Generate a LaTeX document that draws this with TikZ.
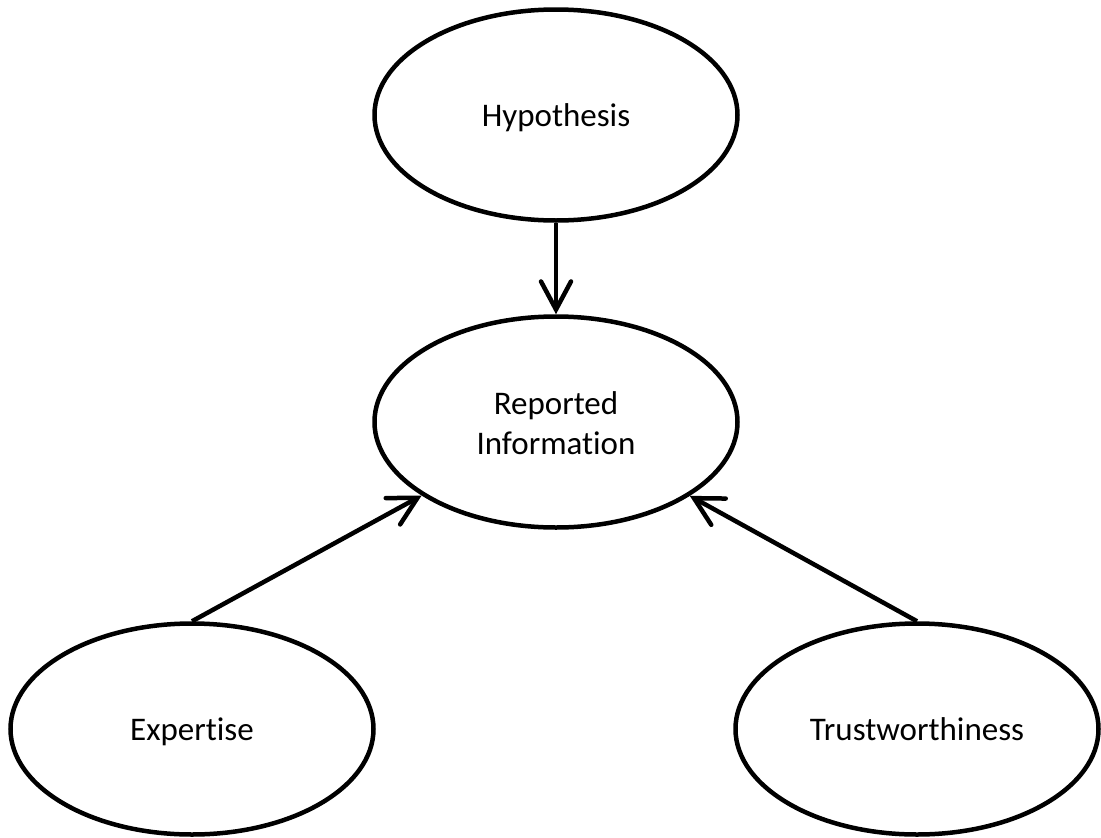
\documentclass[tikz,border=0pt]{standalone}
\usepackage{fontspec}
\setmainfont{Carlito}[Ligatures=NoCommon]
\usetikzlibrary{shapes.geometric,arrows.meta}
\begin{document}
\begin{tikzpicture}[x=1pt,y=1pt,
  oval/.style={ellipse, draw, line width=4.5pt, minimum width=363pt, minimum height=211pt, inner sep=0pt,
    font=\fontsize{33}{40}\selectfont, align=center, text height=30pt, text depth=7pt},
  link/.style={line width=4.5pt, -{Straight Barb[length=28pt,width=30pt,line cap=round]}}]
\useasboundingbox (0,0) rectangle (1101,-838);
\fill[white] (0,0) rectangle (1101,-838);
\node[oval] (hyp) at (556,-115) {Hypothesis};
\node[oval, text height=71pt] (rep) at (556,-422) {Reported\\Information};
\node[oval] (exp) at (192,-729) {Expertise};
\node[oval] (tru) at (917,-729) {Trustworthiness};
\draw[link] (hyp) -- (rep);
\draw[link] (exp.north) -- (rep);
\draw[link] (tru.north) -- (rep);
\end{tikzpicture}
\end{document}
